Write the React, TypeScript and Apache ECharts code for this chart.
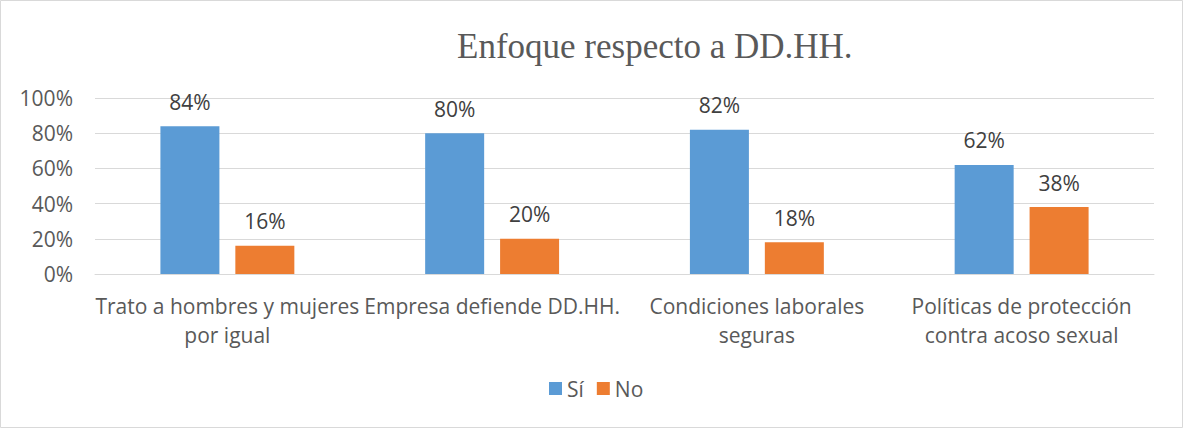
import React, { useEffect, useRef } from "react";
import * as echarts from "echarts";

const categories = [
  "Trato a hombres y mujeres\npor igual",
  "Empresa defiende DD.HH.",
  "Condiciones laborales\nseguras",
  "Políticas de protección\ncontra acoso sexual",
];
const siValues = [84, 80, 82, 62];
const noValues = [16, 20, 18, 38];
const yTicks = [0, 20, 40, 60, 80, 100];
const titleText = "Enfoque respecto a DD.HH.";

const SANS = "'Open Sans', 'Liberation Sans', sans-serif";

export default function App() {
  const ref = useRef<HTMLDivElement>(null);
  useEffect(() => {
    document.body.style.margin = "0";
    if (!ref.current) return;
    const chart = echarts.init(ref.current, null, { renderer: "svg" });
    const labelStyle = {
      show: true,
      position: "top" as const,
      distance: 11,
      formatter: (p: any) => p.value + "%",
      color: "#404040",
      fontSize: 21,
      fontFamily: SANS,
      lineHeight: 27,
    };
    chart.setOption({
      animation: false,
      backgroundColor: "#ffffff",
      title: {
        text: titleText,
        left: 457,
        top: 29,
        padding: 0,
        textStyle: {
          fontFamily: "'Liberation Serif', 'Times New Roman', serif",
          fontSize: 35,
          fontWeight: "normal",
          color: "#595959",
        },
      },
      graphic: [
        {
          type: "rect",
          shape: { x: 0.5, y: 0.5, width: 1182, height: 427 },
          style: { fill: "none", stroke: "#d9d9d9", lineWidth: 1 },
          silent: true,
        },
      ],
      legend: {
        left: 549,
        top: 378,
        padding: 0,
        itemWidth: 13,
        itemHeight: 13,
        itemGap: 13,
        icon: "rect",
        textStyle: { fontFamily: SANS, fontSize: 21, color: "#595959" },
        data: ["Sí", "No"],
      },
      grid: { left: 95, right: 29, top: 98, bottom: 154 },
      xAxis: {
        type: "category",
        data: categories,
        axisLine: { lineStyle: { color: "#d9d9d9" } },
        axisTick: { show: false },
        axisLabel: {
          interval: 0,
          margin: 17,
          fontFamily: SANS,
          fontSize: 21,
          lineHeight: 29,
          color: "#595959",
        },
      },
      yAxis: {
        type: "value",
        min: yTicks[0],
        max: yTicks[yTicks.length - 1],
        interval: 20,
        axisLine: { show: false },
        axisTick: { show: false },
        splitLine: { lineStyle: { color: "#d9d9d9" } },
        axisLabel: {
          margin: 22,
          formatter: (v: number) => v + "%",
          fontFamily: SANS,
          fontSize: 21,
          color: "#595959",
        },
      },
      series: [
        {
          name: "Sí",
          type: "bar",
          data: siValues,
          barWidth: 59,
          barGap: "27%",
          itemStyle: { color: "#5b9bd5" },
          label: labelStyle,
        },
        {
          name: "No",
          type: "bar",
          data: noValues,
          barWidth: 59,
          barGap: "27%",
          itemStyle: { color: "#ed7d31" },
          label: labelStyle,
        },
      ],
    });
    return () => chart.dispose();
  }, []);
  return <div ref={ref} style={{ width: 1183, height: 428 }} />;
}
